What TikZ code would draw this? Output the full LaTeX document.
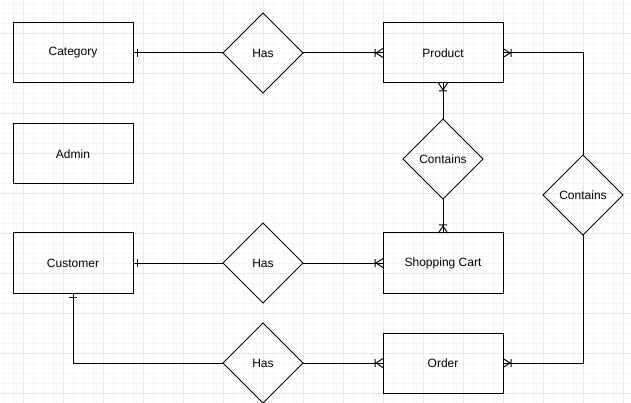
\documentclass[tikz,border=0pt]{standalone}
\usepackage{fontspec}
\setmainfont{Liberation Sans}
\usetikzlibrary{shapes.geometric, positioning, decorations.markings}

\begin{document}
\begin{tikzpicture}[x=1pt, y=-1pt,
    % Entity boxes
    entity/.style={rectangle, draw=black, line width=1pt, outer sep=0pt,
                   minimum width=120pt, minimum height=60pt,
                   font=\fontsize{12}{14}\selectfont},
    % Relationship diamonds
    rel/.style={diamond, draw=black, line width=1pt, aspect=1, inner sep=0pt,
                outer sep=0pt, minimum width=80pt, minimum height=80pt,
                font=\fontsize{12}{14}\selectfont},
    % Background grid
    minorgrid/.style={draw=black!4, line width=0.7pt},
    majorgrid/.style={draw=black!9, line width=0.7pt},
    link/.style={draw=black, line width=1pt},
    % Cardinality marks
    fromone/.style={postaction={decorate}, decoration={markings,
        mark=at position 4pt with {\draw[line width=1pt] (0,-4pt) -- (0,4pt);}}},
    tomany/.style={postaction={decorate}, decoration={markings,
        mark=at position 1 with {\draw[line width=1pt]
            (0,-4.5pt) -- (-7pt,0) -- (0,4.5pt)
            (-8pt,-4pt) -- (-8pt,4pt);}}}
]

\useasboundingbox (0,0) rectangle (631,403);
\fill[white] (0,0) rectangle (631,403);

%-------- GRID --------
\foreach \gx in {3,13,...,631} \draw[minorgrid] (\gx,0) -- (\gx,403);
\foreach \gy in {3,13,...,403} \draw[minorgrid] (0,\gy) -- (631,\gy);
\foreach \gx in {23,63,...,631} \draw[majorgrid] (\gx,0) -- (\gx,403);
\foreach \gy in {33,73,...,403} \draw[majorgrid] (0,\gy) -- (631,\gy);

%-------- ENTITIES --------
\node[entity] (cat) at (73,53) {Category};
\node[entity, below=41pt of cat] (admin) {Admin};
\node[entity, below=49pt of admin] (cust) {Customer};

%-------- RELATIONSHIPS --------
\node[rel, right=90pt of cat] (has1) {Has};
\node[entity, right=80pt of has1] (prod) {Product};
\node[rel, below=36pt of prod] (cont1) {Contains};
\node[entity, below=34pt of cont1] (cart) {Shopping Cart};
\node[rel, right=90pt of cust] (has2) {Has};
\node[entity, below=40pt of cart] (order) {Order};
\node[rel, left=80pt of order] (has3) {Has};
\node[rel] (cont2) at (583,195) {Contains};

%-------- CONNECTORS --------
\draw[link, fromone] (cat)   -- (has1);
\draw[link, tomany]  (has1)  -- (prod);
\draw[link, tomany]  (cont1) -- (prod);
\draw[link, tomany]  (cont1) -- (cart);
\draw[link, tomany]  (cont2) |- (prod);
\draw[link, tomany]  (cont2) |- (order);
\draw[link, fromone] (cust)  -- (has2);
\draw[link, tomany]  (has2)  -- (cart);
\draw[link, fromone] (cust)  |- (has3);
\draw[link, tomany]  (has3)  -- (order);

\end{tikzpicture}
\end{document}
